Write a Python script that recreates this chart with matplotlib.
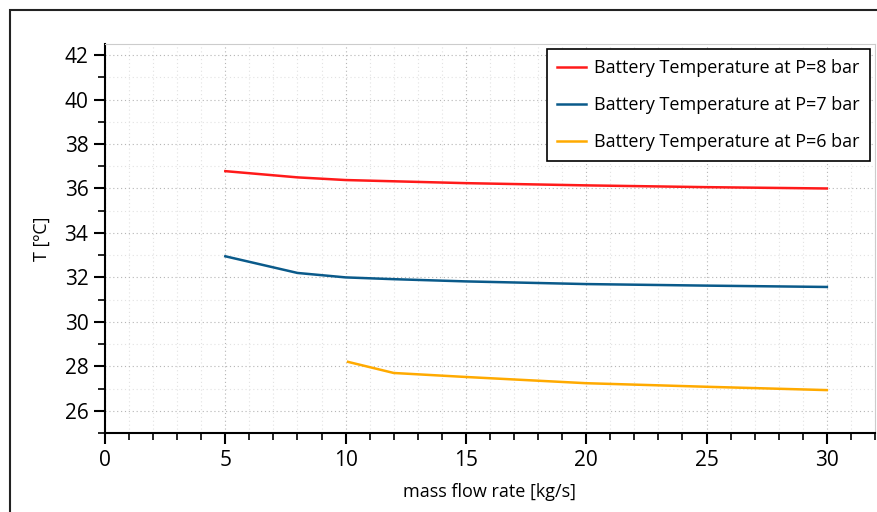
import matplotlib
matplotlib.use("Agg")
import matplotlib.pyplot as plt
from matplotlib.patches import Rectangle
from matplotlib.ticker import MultipleLocator

plt.rcParams['font.family'] = ['Open Sans', 'DejaVu Sans']

x8 = [5, 8, 10, 15, 20, 25, 30]
t8 = [36.78, 36.5, 36.38, 36.24, 36.14, 36.06, 36.0]
x7 = [5, 8, 10, 12, 15, 20, 25, 30]
t7 = [32.95, 32.2, 32.0, 31.92, 31.82, 31.7, 31.63, 31.57]
x6 = [10.1, 12, 15, 20, 25, 30]
t6 = [28.2, 27.7, 27.52, 27.24, 27.08, 26.93]

labels = ["Battery Temperature at P=8 bar",
          "Battery Temperature at P=7 bar",
          "Battery Temperature at P=6 bar"]

fig = plt.figure(figsize=(8.78, 5.12), dpi=100)
fig.patches.append(Rectangle((10/878, -0.1), 1.2, (512-10)/512 + 0.1,
                             transform=fig.transFigure, fill=False,
                             edgecolor='#222222', linewidth=1.5, zorder=0))
ax = fig.add_axes([105/878, 1-433/512, (875-105)/878, (433-44)/512])

ax.plot(x8, t8, color='#ff1a1a', lw=1.8, label=labels[0])
ax.plot(x7, t7, color='#0a5a8a', lw=1.8, label=labels[1])
ax.plot(x6, t6, color='#ffaa00', lw=1.8, label=labels[2])

ax.set_xlim(0, 32)
ax.set_ylim(25, 42.5)
ax.xaxis.set_major_locator(MultipleLocator(5))
ax.xaxis.set_minor_locator(MultipleLocator(1))
ax.yaxis.set_major_locator(MultipleLocator(2))
ax.yaxis.set_minor_locator(MultipleLocator(1))

ax.grid(which='major', color='#b5b5b5', linestyle=(0, (1, 2.5)), lw=0.8)
ax.grid(which='minor', color='#e2e2e2', linestyle=(0, (1, 2.5)), lw=0.8)
ax.set_axisbelow(True)

for s in ['top', 'right']:
    ax.spines[s].set_color('#cccccc')
for s in ['left', 'bottom']:
    ax.spines[s].set_color('black')
    ax.spines[s].set_linewidth(1.5)

ax.tick_params(which='major', direction='out', length=8, width=1.5, labelsize=15, pad=4)
ax.tick_params(which='minor', direction='out', length=5, width=1.2)
ax.tick_params(axis='x', which='both', top=False)
ax.tick_params(axis='y', which='both', right=False)

ax.set_xlabel('mass flow rate [kg/s]', fontsize=13, labelpad=9)
ax.set_ylabel('T [ºC]', fontsize=13, labelpad=10)

leg = ax.legend(loc='upper right', fontsize=13, frameon=True, fancybox=False,
                edgecolor='black', framealpha=1, borderaxespad=0.3,
                handlelength=1.6, labelspacing=1.05, handletextpad=0.45,
                borderpad=0.55)
leg.get_frame().set_linewidth(1.2)

fig.savefig('out.png', dpi=100)
